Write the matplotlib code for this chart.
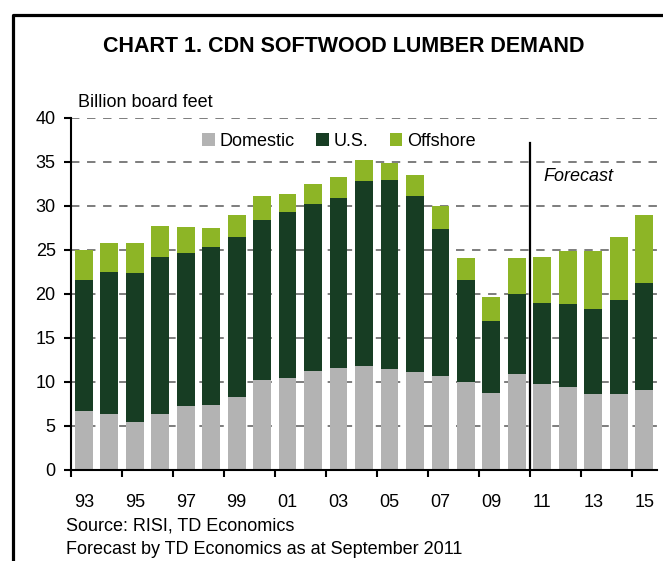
from matplotlib import pyplot as plt
from matplotlib.lines import Line2D
import numpy as np

plt.rcParams['font.family'] = ['Liberation Sans', 'DejaVu Sans']

# Canadian softwood lumber demand, billion board feet
years = ["93", "94", "95", "96", "97", "98", "99", "00", "01", "02", "03", "04",
         "05", "06", "07", "08", "09", "10", "11", "12", "13", "14", "15"]
domestic = [6.7, 6.4, 5.5, 6.4, 7.3, 7.4, 8.3, 10.2, 10.5, 11.2, 11.6, 11.8,
            11.5, 11.1, 10.7, 10.0, 8.8, 10.9, 9.8, 9.4, 8.6, 8.6, 9.1]
us = [14.9, 16.1, 16.9, 17.8, 17.4, 17.9, 18.2, 18.2, 18.8, 19.0, 19.3, 21.0,
      21.5, 20.0, 16.7, 11.6, 8.1, 9.1, 9.2, 9.5, 9.7, 10.7, 12.2]
offshore = [3.4, 3.3, 3.4, 3.5, 2.9, 2.2, 2.5, 2.7, 2.1, 2.3, 2.4, 2.4,
            1.9, 2.4, 2.6, 2.5, 2.8, 4.1, 5.2, 6.0, 6.6, 7.2, 7.7]
forecast_start = 17.5   # boundary between 2010 and 2011

c_dom = '#b3b3b3'
c_us = '#173d23'
c_off = '#8db526'

fig = plt.figure(figsize=(6.63, 5.61), dpi=100)
ax = fig.add_axes([71/663, 1 - 470/561, 586/663, 352/561])

x = np.arange(len(years))
dom = np.array(domestic)
usa = np.array(us)
off = np.array(offshore)

ax.bar(x, dom, 0.7, color=c_dom, label='Domestic', zorder=3)
ax.bar(x, usa, 0.7, bottom=dom, color=c_us, label='U.S.', zorder=3)
ax.bar(x, off, 0.7, bottom=dom + usa, color=c_off, label='Offshore', zorder=3)

ax.set_xlim(-0.5, 22.5)
ax.set_ylim(0, 40)
ax.set_yticks(np.arange(0, 41, 5))

# horizontal dashed grid
for v in range(5, 41, 5):
    ax.axhline(v, color='#5a5a5a', lw=1.1, ls=(0, (5.5, 5)), zorder=1)

# forecast marker
ax.plot([forecast_start, forecast_start], [0, 37.2], color='black', lw=1.6, zorder=4)
ax.text(18.05, 33.4, 'Forecast', style='italic', fontsize=13, va='center', ha='left')

ax.set_xticks(np.arange(-0.5, 22, 2))
ax.set_xticklabels([])
ax.set_xticks(x[::2], minor=True)
ax.set_xticklabels(years[::2], minor=True)
ax.tick_params(axis='x', which='major', direction='out', length=5, width=1.5)
ax.tick_params(axis='x', which='minor', length=0, pad=17, labelsize=13)
ax.tick_params(axis='y', direction='out', length=5, width=1.5, pad=6, labelsize=13)

for s in ['top', 'right']:
    ax.spines[s].set_visible(False)
ax.spines['left'].set_linewidth(1.5)
ax.spines['bottom'].set_linewidth(1.5)
ax.spines['bottom'].set_zorder(5)

ax.legend(loc='center', bbox_to_anchor=(0.457, 0.933), ncol=3, frameon=False,
          fontsize=13, handlelength=0.7, handleheight=0.7, handletextpad=0.25,
          columnspacing=1.2)

fig.text(78/663, 1 - 102/561, 'Billion board feet', fontsize=13, va='center', ha='left')
fig.text(344/663, 1 - 47/561, 'CHART 1. CDN SOFTWOOD LUMBER DEMAND',
         fontsize=15.5, fontweight='bold', va='center', ha='center')
fig.text(66/663, 1 - 526/561, 'Source: RISI, TD Economics', fontsize=13, va='center')
fig.text(66/663, 1 - 549/561, 'Forecast by TD Economics as at September 2011',
         fontsize=13, va='center')

# frame around the chart (cut off at right and bottom)
fig.add_artist(Line2D([12.5/663, 12.5/663, 1.0], [0.0, 1 - 14.5/561, 1 - 14.5/561],
                      transform=fig.transFigure, color='black', lw=2.3))

fig.savefig('out.png', dpi=100)
